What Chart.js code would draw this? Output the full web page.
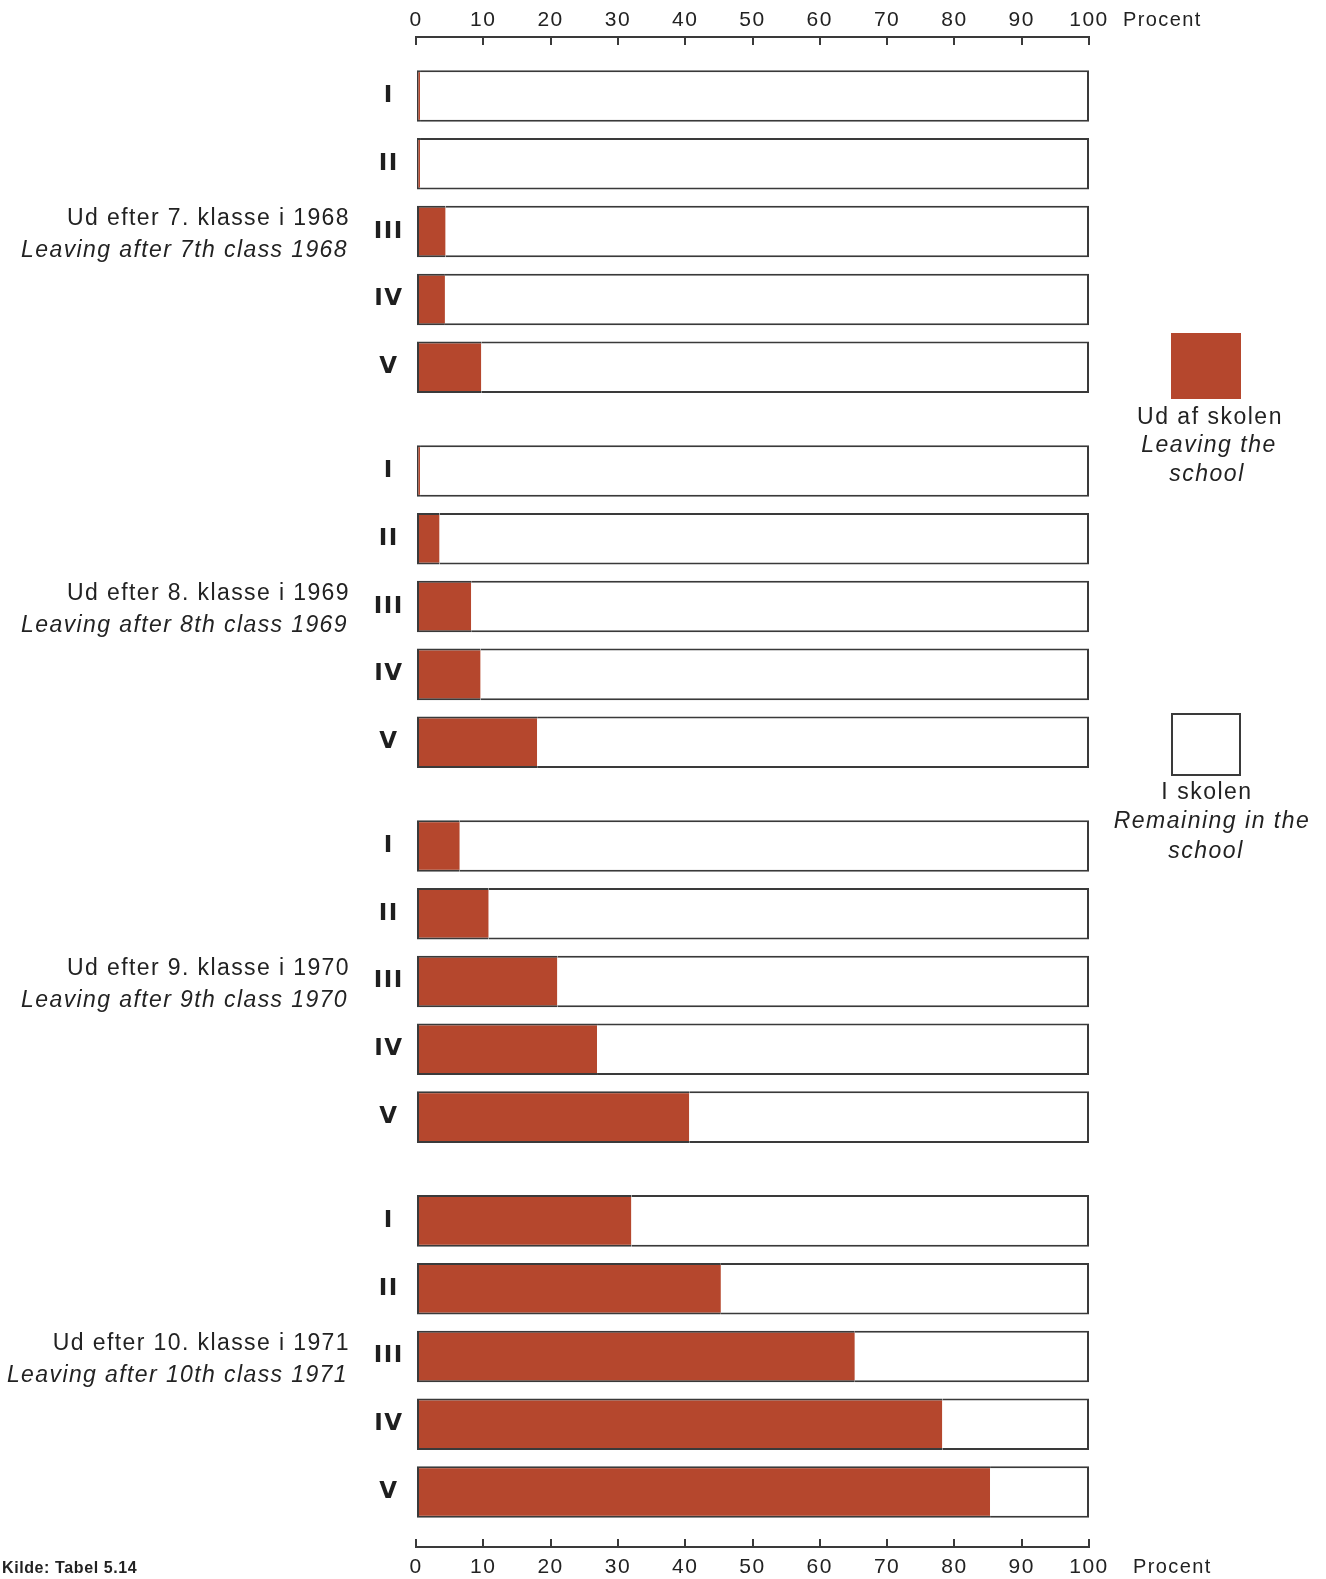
<!DOCTYPE html>
<html lang="da">
<head>
<meta charset="utf-8">
<title>Ud af skolen / Leaving the school</title>
<script src="https://cdn.jsdelivr.net/npm/chart.js@4.4.1/dist/chart.umd.min.js"></script>
<style>
  html, body { margin: 0; padding: 0; background: #fff; }
  #wrap { position: relative; width: 1326px; height: 1579px; }
</style>
</head>
<body>
<div id="wrap"><canvas id="chart" width="1326" height="1579"></canvas></div>
<script>
// Rows inside each group
const ROWS = ['I', 'II', 'III', 'IV', 'V'];

// Group captions, Danish + English
const GROUPS_DA = [
  'Ud efter 7. klasse i 1968',
  'Ud efter 8. klasse i 1969',
  'Ud efter 9. klasse i 1970',
  'Ud efter 10. klasse i 1971',
];
const GROUPS_EN = [
  'Leaving after 7th class 1968',
  'Leaving after 8th class 1969',
  'Leaving after 9th class 1970',
  'Leaving after 10th class 1971',
];

// Percent out of school (red part), rows I..V
const LEAVING_1968 = [0.6, 0.6, 4.4, 4.3, 9.7];
const LEAVING_1969 = [0.6, 3.5, 8.2, 9.6, 18.0];
const LEAVING_1970 = [6.5, 10.8, 21.0, 26.9, 40.6];
const LEAVING_1971 = [32.0, 45.3, 65.2, 78.2, 85.3];

// Percent still in school (white part), rows I..V
const REMAINING_1968 = [99.4, 99.4, 95.6, 95.7, 90.3];
const REMAINING_1969 = [99.4, 96.5, 91.8, 90.4, 82.0];
const REMAINING_1970 = [93.5, 89.2, 79.0, 73.1, 59.4];
const REMAINING_1971 = [68.0, 54.7, 34.8, 21.8, 14.7];

const X_TICKS = [0, 10, 20, 30, 40, 50, 60, 70, 80, 90, 100];

const LEAVING = [LEAVING_1968, LEAVING_1969, LEAVING_1970, LEAVING_1971];
const REMAINING = [REMAINING_1968, REMAINING_1969, REMAINING_1970, REMAINING_1971];

const RED = '#b5472d';
const INK = '#222222';
const EDGE = '#3a3a3a';
const SANS = '"Liberation Sans", Arial, sans-serif';

// extra space between groups, in row units
const GROUP_GAP = 0.53;
const rowPos = (g, r) => g * (ROWS.length + GROUP_GAP) + r;

function toPoints(groups) {
  const pts = [];
  groups.forEach((vals, g) => {
    vals.forEach((v, r) => pts.push({ x: v, y: rowPos(g, r) }));
  });
  return pts;
}

const tickPositions = [];
GROUPS_DA.forEach((_, g) => ROWS.forEach((_, r) => tickPositions.push(rowPos(g, r))));

const sideText = {
  id: 'sideText',
  beforeDraw(chart) {
    chart.ctx.letterSpacing = '1.5px';
  },
  afterDraw(chart) {
    const { ctx, scales } = chart;
    ctx.save();
    ctx.fillStyle = INK;
    ctx.textBaseline = 'middle';

    // group captions, hung on row III of each group
    ctx.letterSpacing = '1.4px';
    ctx.textAlign = 'right';
    GROUPS_DA.forEach((da, g) => {
      const yc = scales.y.getPixelForValue(rowPos(g, 2));
      ctx.font = `23px ${SANS}`;
      ctx.fillText(da, 350, yc - 13);
      ctx.font = `italic 23px ${SANS}`;
      ctx.fillText(GROUPS_EN[g], 348, yc + 19);
    });

    // axis unit
    ctx.textAlign = 'left';
    ctx.letterSpacing = '1.4px';
    ctx.font = `20px ${SANS}`;
    ctx.fillText('Procent', scales.x.right + 34, 20);
    ctx.fillText('Procent', scales.x2.right + 44, 1567);

    // source
    ctx.font = `bold 16px ${SANS}`;
    ctx.letterSpacing = '0.6px';
    ctx.fillText('Kilde: Tabel 5.14', 2, 1569);

    // legend
    const ds = chart.data.datasets;
    ctx.fillStyle = ds[0].backgroundColor;
    ctx.fillRect(1171, 333, 70, 66);
    ctx.fillStyle = ds[1].backgroundColor;
    ctx.fillRect(1172, 714, 68, 61);
    ctx.strokeStyle = EDGE;
    ctx.lineWidth = 2;
    ctx.strokeRect(1172, 714, 68, 61);

    ctx.fillStyle = INK;
    ctx.textAlign = 'center';
    ctx.letterSpacing = '1.5px';
    ctx.font = `23px ${SANS}`;
    ctx.fillText(ds[0].label, 1210, 418);
    ctx.fillText(ds[1].label, 1207, 793);
    ctx.font = `italic 23px ${SANS}`;
    ctx.fillText('Leaving the', 1209, 446);
    ctx.fillText('school', 1207, 475);
    ctx.fillText('Remaining in the', 1212, 822);
    ctx.fillText('school', 1206, 852);
    ctx.restore();
  },
};

const xAxis = (position, padding, height) => ({
  type: 'linear',
  position,
  min: 0,
  max: 100,
  stacked: true,
  afterBuildTicks: axis => { axis.ticks = X_TICKS.map(v => ({ value: v })); },
  afterFit: axis => { axis.height = height; },
  grid: {
    drawOnChartArea: false,
    drawTicks: true,
    tickLength: -8,
    color: EDGE,
    lineWidth: 2,
  },
  border: { display: true, color: EDGE, width: 2 },
  ticks: {
    color: INK,
    padding,
    maxRotation: 0,
    autoSkip: false,
    font: { family: SANS, size: 21 },
  },
});

new Chart(document.getElementById('chart'), {
  type: 'bar',
  data: {
    datasets: [
      {
        label: 'Ud af skolen',
        data: toPoints(LEAVING),
        backgroundColor: RED,
        borderColor: EDGE,
        borderWidth: { left: 2, top: 2, bottom: 2, right: 0 },
        borderSkipped: false,
      },
      {
        label: 'I skolen',
        data: toPoints(REMAINING),
        backgroundColor: '#ffffff',
        borderColor: EDGE,
        borderWidth: { left: 0, top: 2, bottom: 2, right: 2 },
        borderSkipped: false,
      },
    ],
  },
  options: {
    indexAxis: 'y',
    responsive: false,
    animation: false,
    categoryPercentage: 0.8,
    barPercentage: 0.95,
    layout: { padding: { left: 356, right: 237, top: 0, bottom: 0 } },
    scales: {
      x: xAxis('top', 12, 37),
      x2: xAxis('bottom', 16, 32),
      y: {
        type: 'linear',
        reverse: true,
        stacked: true,
        offset: false,
        min: -0.87,
        max: 21.4,
        afterBuildTicks: axis => { axis.ticks = tickPositions.map(v => ({ value: v })); },
        afterFit: axis => { axis.width = 60; },
        grid: { display: false, drawTicks: false },
        border: { display: false },
        ticks: {
          autoSkip: false,
          crossAlign: 'center',
          padding: 14,
          color: '#1e1e1e',
          font: { family: '"DejaVu Sans", sans-serif', size: 23, weight: 'bold' },
          callback: (value, index) => ROWS[index % ROWS.length],
        },
      },
    },
    plugins: {
      legend: { display: false },
      tooltip: { enabled: false },
    },
  },
  plugins: [sideText],
});
</script>
</body>
</html>
